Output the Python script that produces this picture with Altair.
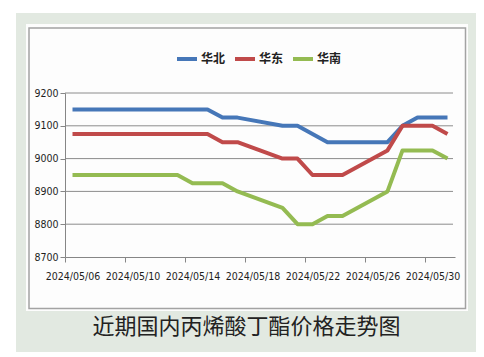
import altair as alt
import pandas as pd

# ---- data ----
dates = ["2024/05/06", "2024/05/07", "2024/05/08", "2024/05/09", "2024/05/10",
         "2024/05/13", "2024/05/14", "2024/05/15", "2024/05/16", "2024/05/17",
         "2024/05/20", "2024/05/21", "2024/05/22", "2024/05/23", "2024/05/24",
         "2024/05/27", "2024/05/28", "2024/05/29", "2024/05/30", "2024/05/31"]
north = [9150, 9150, 9150, 9150, 9150, 9150, 9150, 9150, 9125, 9125,
         9100, 9100, 9075, 9050, 9050, 9050, 9100, 9125, 9125, 9125]
east = [9075, 9075, 9075, 9075, 9075, 9075, 9075, 9075, 9050, 9050,
        9000, 9000, 8950, 8950, 8950, 9025, 9100, 9100, 9100, 9075]
south = [8950, 8950, 8950, 8950, 8950, 8950, 8925, 8925, 8925, 8900,
         8850, 8800, 8800, 8825, 8825, 8900, 9025, 9025, 9025, 9000]
series_names = ["华北", "华东", "华南"]
series_colors = ["#4677b8", "#c04a4a", "#94bb52"]
y_ticks = [8700, 8800, 8900, 9000, 9100, 9200]
x_tick_labels = ["2024/05/06", "2024/05/10", "2024/05/14", "2024/05/18",
                 "2024/05/22", "2024/05/26", "2024/05/30"]
title_text = "近期国内丙烯酸丁酯价格走势图"

start = pd.Timestamp("2024-05-06")


def day_index(s):
    return (pd.Timestamp(s.replace("/", "-")) - start).days


rows = []
for name, vals in zip(series_names, [north, east, south]):
    for d, v in zip(dates, vals):
        rows.append({"day": day_index(d), "price": v, "region": name})
df = pd.DataFrame(rows)

tick_days = [day_index(s) - 0.5 for s in x_tick_labels]
label_array = "[" + ",".join("'" + s + "'" for s in x_tick_labels) + "]"

W, H = 390, 164
AX = "#868686"
BG = "#e2e9e1"
AXFONT = "'DejaVu Sans Condensed', 'Liberation Sans Narrow', 'Roboto Condensed', 'Liberation Sans', sans-serif"

x_enc = alt.X(
    "day:Q",
    scale=alt.Scale(domain=[-0.5, 25.5], nice=False, zero=False),
    axis=alt.Axis(
        values=tick_days,
        labelExpr=label_array + "[round((datum.value + 0.5) / 4)]",
        title=None, grid=False, domainColor=AX, tickColor=AX, tickSize=5,
        labelFont=AXFONT, labelFontSize=10.5, labelColor="#1e1e1e",
        labelPadding=9, labelOffset=7.5, labelFlush=False, labelOverlap=False,
        zindex=1,
    ),
)
y_enc = alt.Y(
    "price:Q",
    scale=alt.Scale(domain=[8700, 9200], nice=False, zero=False),
    axis=alt.Axis(
        values=y_ticks, format="d", title=None, grid=False, domainColor=AX,
        tickColor=AX, tickSize=5, labelFont=AXFONT,
        labelFontSize=10.5, labelColor="#1e1e1e", labelPadding=2, zindex=1,
    ),
)

one = pd.DataFrame({"a": [0]})

bg_green = alt.Chart(one).mark_rect(color=BG).encode(
    x=alt.value(-49), x2=alt.value(411), y=alt.value(-80), y2=alt.value(259))
bg_white = alt.Chart(one).mark_rect(color="#fdfdfd").encode(
    x=alt.value(-39), x2=alt.value(403), y=alt.value(-69), y2=alt.value(218))
border = alt.Chart(one).mark_rect(fillOpacity=0, stroke="#a3a3a3", strokeWidth=1.5).encode(
    x=alt.value(-36), x2=alt.value(400.5), y=alt.value(-65), y2=alt.value(215.5))

grid = alt.Chart(pd.DataFrame({"price": y_ticks[1:]})).mark_rule(
    color="#8c8c8c", strokeWidth=1).encode(
    y=y_enc, x=alt.value(0), x2=alt.value(W - 2))

lines = alt.Chart(df).mark_line(strokeWidth=4, strokeJoin="round").encode(
    x=x_enc, y=y_enc,
    color=alt.Color(
        "region:N",
        scale=alt.Scale(domain=series_names, range=series_colors),
        legend=alt.Legend(
            orient="none", legendX=110, legendY=-46, direction="horizontal",
            title=None, symbolType="stroke", symbolStrokeWidth=4, symbolSize=400,
            labelFont="Noto Sans CJK SC", labelFontSize=12, labelFontWeight="bold",
            labelColor="#222222",
            labelOffset=2, columnPadding=1, padding=0, zindex=1,
        ),
    ),
    order=alt.Order("day:Q"),
)

title = alt.Chart(pd.DataFrame({"t": [title_text]})).mark_text(
    font="Noto Sans CJK SC", fontSize=22, color="#222222", baseline="middle",
    align="center").encode(text="t:N", x=alt.value(181.5), y=alt.value(233.5))

chart = alt.layer(bg_green, bg_white, border, grid, lines, title).properties(
    width=W, height=H,
    padding={"left": 57, "top": 85, "right": 21, "bottom": 95},
    autosize=alt.AutoSizeParams(type="none"),
).configure(background="white").configure_view(stroke=None)

chart.save("out.html", embed_options={"renderer": "svg", "actions": False})
